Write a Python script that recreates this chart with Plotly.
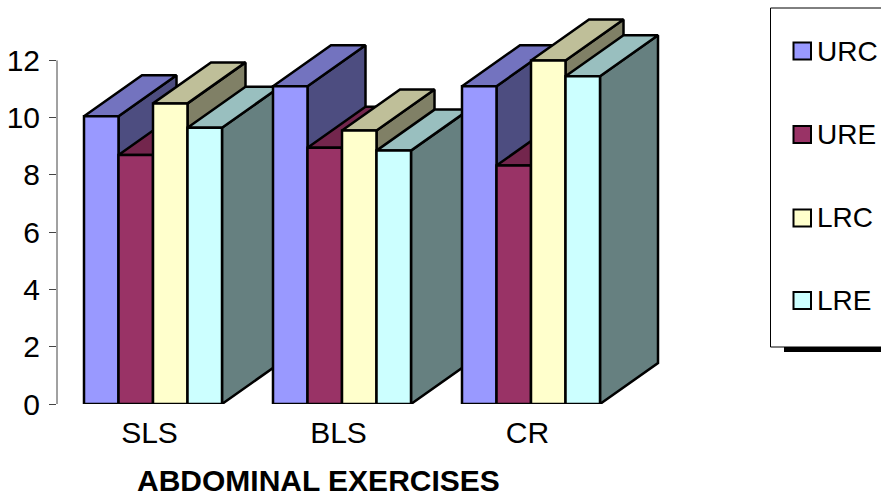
import plotly.graph_objects as go

W, H = 881, 498
categories = ["SLS", "BLS", "CR"]
series_names = ["URC", "URE", "LRC", "LRE"]
urc = [10.05, 11.1, 11.1]
ure = [8.7, 8.95, 8.33]
lrc = [10.5, 9.55, 12.0]
lre = [9.65, 8.85, 11.45]
y_ticks = [0, 2, 4, 6, 8, 10, 12]

front_colors = ["#9999FF", "#993366", "#FFFFCC", "#CCFFFF"]
top_colors = ["#7373BF", "#73264D", "#BFBF99", "#99BFBF"]
side_colors = ["#4D4D80", "#4D1A33", "#808066", "#668080"]

# Axis scales (px per data unit) and the oblique depth of the 3-D look
PX_X, PX_Y = 189.0, 28.63
DEPTH_X, DEPTH_Y = 58 / PX_X, 41 / PX_Y
BAR_W = 34.5 / PX_X
GROUP_SHIFT = 3.5 / PX_X

LEFT, RIGHT, BOTTOM, TOP = 57, 700, 404, 4
x_range = [-(149.5 - LEFT) / PX_X, (RIGHT - 149.5) / PX_X]
y_range = [0, (BOTTOM - TOP) / PX_Y]

fig = go.Figure()
EDGE = dict(color="black", width=2.5)


def face(xs, ys, color):
    fig.add_trace(go.Scatter(x=xs, y=ys, mode="lines", fill="toself", fillcolor=color,
                             line=EDGE, hoverinfo="skip", showlegend=False, cliponaxis=False))


all_series = [urc, ure, lrc, lre]
n = len(all_series)
for c in range(len(categories)):
    for s, values in enumerate(all_series):
        v = values[c]
        x0 = c + GROUP_SHIFT + (s - n / 2) * BAR_W
        x1 = x0 + BAR_W
        face([x1, x1 + DEPTH_X, x1 + DEPTH_X, x1, x1],
             [0, DEPTH_Y, v + DEPTH_Y, v, 0], side_colors[s])
        face([x0, x0 + DEPTH_X, x1 + DEPTH_X, x1, x0],
             [v, v + DEPTH_Y, v + DEPTH_Y, v, v], top_colors[s])
        face([x0, x0, x1, x1, x0], [0, v, v, 0, 0], front_colors[s])


def px(x):
    return (x - LEFT) / (RIGHT - LEFT)


def py(y):
    return (BOTTOM - y) / (BOTTOM - TOP)


FONT = "Liberation Sans, Arial, sans-serif"
shapes = [
    dict(type="line", xref="x domain", yref="y", x0=0, x1=0, y0=y_ticks[0], y1=y_ticks[-1],
         line=dict(color="#444444", width=1)),
    # legend frame
    dict(type="rect", xref="paper", yref="paper", x0=px(784), x1=px(900), y0=py(347), y1=py(352),
         fillcolor="black", line=dict(width=0)),
    dict(type="rect", xref="paper", yref="paper", x0=px(770.5), x1=px(900), y0=py(8), y1=py(347),
         fillcolor="white", line=dict(color="black", width=1)),
]
annotations = [
    dict(text="<b>ABDOMINAL EXERCISES</b>", xref="paper", yref="paper", x=px(318), y=py(480),
         xanchor="center", yanchor="middle", showarrow=False,
         font=dict(size=30, color="black", family=FONT)),
]
legend_y = [51, 134.5, 218, 300.5]
for name, color, yc in zip(series_names, front_colors, legend_y):
    shapes.append(dict(type="rect", xref="paper", yref="paper", x0=px(793.5), x1=px(811),
                       y0=py(yc + 8.5), y1=py(yc - 8.5), fillcolor=color,
                       line=dict(color="black", width=2)))
    annotations.append(dict(text=name, xref="paper", yref="paper", x=px(815), y=py(yc),
                            xanchor="left", yanchor="middle", showarrow=False,
                            font=dict(size=28, color="black", family=FONT)))

fig.update_layout(
    width=W, height=H, paper_bgcolor="white", plot_bgcolor="white", showlegend=False,
    margin=dict(l=LEFT, r=W - RIGHT, t=TOP, b=H - BOTTOM, pad=0),
    font=dict(family=FONT, size=30, color="black"),
    xaxis=dict(range=x_range, tickvals=list(range(len(categories))), ticktext=categories,
               showgrid=False, zeroline=False, showline=False, ticks="outside", ticklen=2,
               tickcolor="rgba(0,0,0,0)", tickfont=dict(size=30)),
    yaxis=dict(range=y_range, tickvals=y_ticks, showgrid=False, zeroline=False, showline=False,
               ticks="outside", ticklen=7, tickcolor="#444444", tickwidth=1, tickfont=dict(size=30),
               ticklabelstandoff=3),
    shapes=shapes, annotations=annotations,
)

fig.write_html("out.html", config={"displayModeBar": False},
               post_script="document.body.style.margin='0';document.body.style.overflow='hidden';")
